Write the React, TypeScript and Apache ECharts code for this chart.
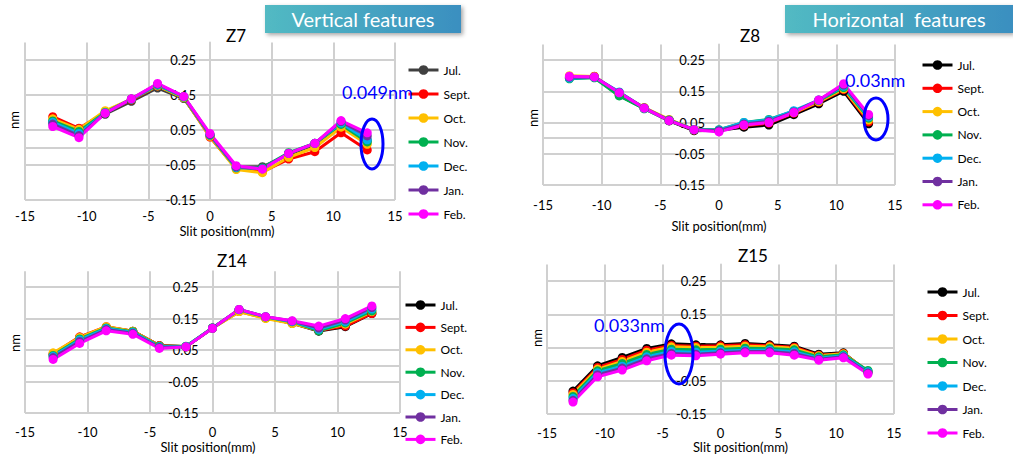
import { useEffect, useRef } from 'react';
import * as echarts from 'echarts';

const slitPositions = [-12.75, -10.625, -8.5, -6.375, -4.25, -2.125, 0, 2.125, 4.25, 6.375, 8.5, 10.625, 12.75];
const months = ['Jul.', 'Sept.', 'Oct.', 'Nov.', 'Dec.', 'Jan.', 'Feb.'];
const monthColors = ['#000000', '#ff0000', '#ffc000', '#00b050', '#00b0f0', '#7030a0', '#ff00ff'];
const z7JulColor = '#404040';
const xTickValues = [-15, -10, -5, 0, 5, 10, 15];
const yTickLabels = ['-0.15', '-0.05', '0.05', '0.15', '0.25'];

// Z7
const z7Jul = [0.074, 0.047, 0.095, 0.132, 0.170, 0.140, 0.035, -0.056, -0.055, -0.020, 0.008, 0.062, 0.020];
const z7Sept = [0.088, 0.055, 0.100, 0.136, 0.176, 0.143, 0.030, -0.060, -0.070, -0.033, -0.012, 0.042, -0.007];
const z7Oct = [0.082, 0.052, 0.105, 0.138, 0.176, 0.142, 0.032, -0.063, -0.072, -0.028, 0.000, 0.058, 0.009];
const z7Nov = [0.076, 0.046, 0.100, 0.138, 0.178, 0.144, 0.035, -0.058, -0.058, -0.015, 0.012, 0.066, 0.016];
const z7Dec = [0.072, 0.040, 0.099, 0.138, 0.179, 0.145, 0.036, -0.057, -0.060, -0.017, 0.012, 0.070, 0.022];
const z7Jan = [0.067, 0.034, 0.098, 0.139, 0.181, 0.146, 0.037, -0.055, -0.061, -0.017, 0.012, 0.074, 0.033];
const z7Feb = [0.060, 0.028, 0.098, 0.139, 0.183, 0.146, 0.040, -0.052, -0.062, -0.017, 0.012, 0.077, 0.042];

// Z8
const z8Jul = [0.195, 0.195, 0.137, 0.095, 0.055, 0.024, 0.025, 0.035, 0.042, 0.075, 0.110, 0.150, 0.046];
const z8Sept = [0.192, 0.198, 0.140, 0.097, 0.058, 0.026, 0.025, 0.040, 0.048, 0.080, 0.115, 0.155, 0.052];
const z8Oct = [0.200, 0.197, 0.142, 0.098, 0.060, 0.027, 0.026, 0.042, 0.052, 0.082, 0.117, 0.158, 0.058];
const z8Nov = [0.190, 0.193, 0.135, 0.094, 0.058, 0.027, 0.027, 0.050, 0.060, 0.086, 0.120, 0.162, 0.064];
const z8Dec = [0.192, 0.195, 0.148, 0.096, 0.057, 0.027, 0.026, 0.050, 0.058, 0.088, 0.122, 0.166, 0.068];
const z8Jan = [0.195, 0.196, 0.146, 0.097, 0.057, 0.027, 0.024, 0.045, 0.054, 0.084, 0.122, 0.170, 0.072];
const z8Feb = [0.198, 0.196, 0.145, 0.096, 0.056, 0.027, 0.020, 0.042, 0.050, 0.082, 0.122, 0.174, 0.076];

// Z14
const z14Jul = [0.036, 0.090, 0.122, 0.110, 0.064, 0.060, 0.120, 0.176, 0.152, 0.135, 0.110, 0.124, 0.166];
const z14Sept = [0.038, 0.092, 0.124, 0.110, 0.064, 0.060, 0.120, 0.172, 0.152, 0.136, 0.112, 0.126, 0.166];
const z14Oct = [0.041, 0.090, 0.124, 0.110, 0.063, 0.061, 0.119, 0.172, 0.150, 0.134, 0.113, 0.132, 0.172];
const z14Nov = [0.033, 0.085, 0.120, 0.108, 0.062, 0.062, 0.120, 0.178, 0.155, 0.140, 0.111, 0.136, 0.174];
const z14Dec = [0.030, 0.082, 0.118, 0.106, 0.060, 0.061, 0.120, 0.178, 0.156, 0.140, 0.116, 0.140, 0.180];
const z14Jan = [0.026, 0.077, 0.115, 0.103, 0.058, 0.060, 0.119, 0.179, 0.156, 0.142, 0.120, 0.145, 0.185];
const z14Feb = [0.020, 0.071, 0.111, 0.100, 0.055, 0.060, 0.119, 0.179, 0.156, 0.143, 0.126, 0.150, 0.190];

// Z15
const z15Jul = [-0.081, -0.005, 0.020, 0.047, 0.061, 0.058, 0.058, 0.062, 0.058, 0.054, 0.030, 0.034, -0.024];
const z15Sept = [-0.086, -0.010, 0.014, 0.042, 0.056, 0.054, 0.055, 0.058, 0.055, 0.051, 0.027, 0.032, -0.022];
const z15Oct = [-0.091, -0.015, 0.008, 0.036, 0.052, 0.050, 0.051, 0.054, 0.052, 0.048, 0.025, 0.031, -0.021];
const z15Nov = [-0.097, -0.020, 0.002, 0.029, 0.045, 0.043, 0.045, 0.048, 0.047, 0.043, 0.022, 0.028, -0.019];
const z15Dec = [-0.103, -0.026, -0.006, 0.022, 0.038, 0.036, 0.039, 0.042, 0.042, 0.037, 0.018, 0.025, -0.023];
const z15Jan = [-0.109, -0.032, -0.012, 0.016, 0.032, 0.030, 0.034, 0.038, 0.038, 0.032, 0.015, 0.022, -0.027];
const z15Feb = [-0.114, -0.038, -0.018, 0.010, 0.027, 0.025, 0.030, 0.034, 0.034, 0.027, 0.012, 0.019, -0.030];

const FONT = 'Lato, "Open Sans", sans-serif';
const GRID_C = '#d0d0d0';
const NONE = 'rgba(0,0,0,0)';
// split lines at -0.15, -0.10, ..., 0.30 (interval 0.05)
const splitColors = [GRID_C, NONE, GRID_C, GRID_C, GRID_C, NONE, GRID_C, NONE, GRID_C, NONE];

const panels = [
  {
    title: 'Z7', titleX: 236, titleY: 35,
    values: [z7Jul, z7Sept, z7Oct, z7Nov, z7Dec, z7Jan, z7Feb], julColor: z7JulColor,
    grid: { left: 25, top: 42.5, width: 370, height: 157.5 },
    legend: { left: 407, top: 64, itemGap: 12 },
    nm: [14, 120], xLabelMargin: 9, nameGap: 24, namePad: [0, 0, 0, 34],
  },
  {
    title: 'Z8', titleX: 750, titleY: 35,
    values: [z8Jul, z8Sept, z8Oct, z8Nov, z8Dec, z8Jan, z8Feb], julColor: '#000000',
    grid: { left: 543, top: 44.4, width: 352, height: 140.6 },
    legend: { left: 921, top: 59, itemGap: 11.3 },
    nm: [533, 118], xLabelMargin: 13, nameGap: 34, namePad: [0, 0, 0, 0],
  },
  {
    title: 'Z14', titleX: 232, titleY: 260,
    values: [z14Jul, z14Sept, z14Oct, z14Nov, z14Dec, z14Jan, z14Feb], julColor: '#000000',
    grid: { left: 25, top: 271.3, width: 375, height: 141.7 },
    legend: { left: 404, top: 299, itemGap: 10.4 },
    nm: [15, 343], xLabelMargin: 12, nameGap: 27, namePad: [0, 9, 0, 0],
  },
  {
    title: 'Z15', titleX: 753, titleY: 255,
    values: [z15Jul, z15Sept, z15Oct, z15Nov, z15Dec, z15Jan, z15Feb], julColor: '#000000',
    grid: { left: 547, top: 264.4, width: 347, height: 149.6 },
    legend: { left: 926, top: 286, itemGap: 11.5 },
    nm: [537, 338], xLabelMargin: 12, nameGap: 26, namePad: [0, 0, 0, 40],
  },
];

const annotations = [
  { text: '0.049nm', x: 342, y: 92, ex: 372, ey: 144, rx: 11, ry: 25 },
  { text: '0.03nm', x: 845, y: 80, ex: 876, ey: 119, rx: 12, ry: 21 },
  { text: '0.033nm', x: 594, y: 325, ex: 679, ey: 354, rx: 14, ry: 30 },
];

const banners = [
  { text: 'Vertical features', x: 265, y: 5, w: 196, h: 28 },
  { text: 'Horizontal  features', x: 785, y: 5, w: 228, h: 28 },
];

function colorFor(p: number, m: number) {
  return m === 0 ? panels[p].julColor : monthColors[m];
}

function buildOption() {
  const grids: any[] = [];
  const xAxes: any[] = [];
  const yAxes: any[] = [];
  const legends: any[] = [];
  const series: any[] = [];
  const graphics: any[] = [];

  panels.forEach((pn, p) => {
    grids.push({ ...pn.grid, containLabel: false });
    xAxes.push({
      type: 'value', gridIndex: p, min: xTickValues[0], max: xTickValues[xTickValues.length - 1], interval: 5,
      axisLine: { show: false, onZero: false },
      axisTick: { show: false },
      axisLabel: { margin: pn.xLabelMargin, fontSize: 13, color: '#000', fontFamily: FONT },
      splitLine: { show: true, lineStyle: { color: GRID_C, width: 2 } },
      name: 'Slit position(mm)', nameLocation: 'middle', nameGap: pn.nameGap,
      nameTextStyle: { fontSize: 13, color: '#000', fontFamily: FONT, padding: pn.namePad },
    });
    yAxes.push({
      type: 'value', gridIndex: p, min: -0.15, max: 0.3, interval: 0.05,
      // the vertical axis crosses the horizontal one at x = 0 (middle of the symmetric range)
      offset: -pn.grid.width / 2,
      axisLine: { show: true, onZero: false, lineStyle: { color: GRID_C, width: 2 } },
      axisTick: { show: false },
      axisLabel: {
        margin: 14, fontSize: 13, color: '#000', fontFamily: FONT,
        formatter: (v: number) => {
          const s = (Math.round(v * 100) / 100).toFixed(2);
          return yTickLabels.includes(s) ? s : '';
        },
      },
      splitLine: { show: true, lineStyle: { color: splitColors, width: 2 } },
    });
    legends.push({
      orient: 'vertical', left: pn.legend.left, top: pn.legend.top, itemGap: pn.legend.itemGap,
      itemWidth: 30, itemHeight: 12, padding: 0, selectedMode: false,
      textStyle: { fontSize: 12, color: '#000', fontFamily: FONT, fontWeight: 'normal' },
      data: months.map((name, m) => ({
        name,
        itemStyle: { color: colorFor(p, m) },
        lineStyle: { color: colorFor(p, m), width: 3 },
      })),
    });
    pn.values.forEach((vals, m) => {
      const c = colorFor(p, m);
      series.push({
        type: 'line', name: months[m], xAxisIndex: p, yAxisIndex: p,
        data: slitPositions.map((x, i) => [x, vals[i]]),
        symbol: 'circle', symbolSize: 9, silent: true,
        lineStyle: { width: 3, color: c }, itemStyle: { color: c },
        emphasis: { disabled: true },
      });
    });
    graphics.push({
      type: 'text', x: pn.titleX, y: pn.titleY,
      style: { text: pn.title, fontSize: 17, fontFamily: FONT, fill: '#000', textAlign: 'center', textVerticalAlign: 'middle' },
    });
    graphics.push({
      type: 'text', x: pn.nm[0], y: pn.nm[1], rotation: Math.PI / 2,
      style: { text: 'nm', fontSize: 13, fontFamily: FONT, fill: '#000', textAlign: 'center', textVerticalAlign: 'middle' },
    });
  });

  annotations.forEach((a) => {
    graphics.push({
      type: 'text', x: a.x, y: a.y, z: 100,
      style: { text: a.text, fontSize: 18, fontFamily: FONT, fill: '#0000ff', textAlign: 'left', textVerticalAlign: 'middle' },
    });
    graphics.push({
      type: 'ellipse', z: 100, shape: { cx: a.ex, cy: a.ey, rx: a.rx, ry: a.ry },
      style: { fill: 'none', stroke: '#0000ff', lineWidth: 3 },
    });
  });

  banners.forEach((b) => {
    graphics.push({
      type: 'rect', z: 100, shape: { x: b.x, y: b.y, width: b.w, height: b.h },
      style: {
        fill: new echarts.graphic.LinearGradient(0, 0, 1, 0, [
          { offset: 0, color: '#52bac3' },
          { offset: 1, color: '#3a8fc0' },
        ]),
        shadowBlur: 4, shadowColor: 'rgba(0,0,0,0.35)', shadowOffsetX: 2, shadowOffsetY: 2,
      },
    });
    graphics.push({
      type: 'text', z: 101, x: b.x + b.w / 2, y: b.y + b.h / 2,
      style: { text: b.text, fontSize: 20, fontFamily: FONT, fill: '#ffffff', textAlign: 'center', textVerticalAlign: 'middle' },
    });
  });

  return {
    animation: false,
    backgroundColor: '#ffffff',
    textStyle: { fontFamily: FONT },
    grid: grids,
    xAxis: xAxes,
    yAxis: yAxes,
    legend: legends,
    series,
    graphic: graphics,
  };
}

export default function App() {
  const ref = useRef<HTMLDivElement>(null);
  useEffect(() => {
    if (!ref.current) return;
    const chart = echarts.init(ref.current, undefined, { renderer: 'svg' });
    chart.setOption(buildOption() as any);
    return () => chart.dispose();
  }, []);
  return (
    <div
      ref={ref}
      style={{ position: 'absolute', left: 0, top: 0, width: 1013, height: 456, background: '#fff' }}
    />
  );
}
